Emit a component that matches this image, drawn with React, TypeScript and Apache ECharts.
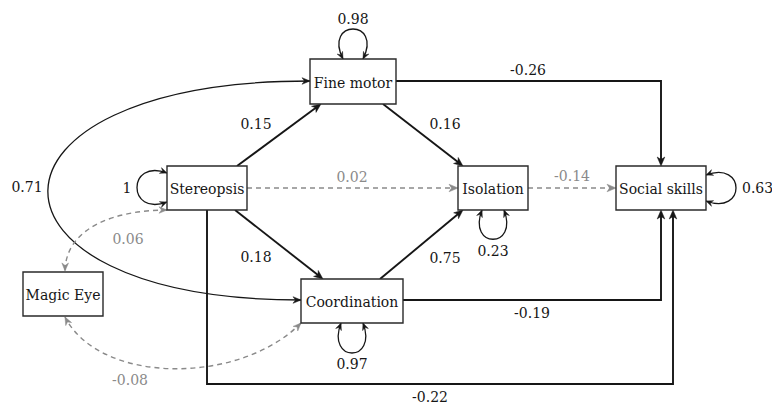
import React, { useEffect, useRef } from 'react';
import * as echarts from 'echarts';

// ---------- data ----------
const nodeNames = ['Stereopsis', 'Fine motor', 'Coordination', 'Isolation', 'Social skills', 'Magic Eye'];

const pathFrom = ['Stereopsis', 'Stereopsis', 'Stereopsis', 'Stereopsis', 'Fine motor', 'Fine motor', 'Coordination', 'Coordination', 'Isolation'];
const pathTo = ['Fine motor', 'Isolation', 'Coordination', 'Social skills', 'Isolation', 'Social skills', 'Isolation', 'Social skills', 'Social skills'];
const pathCoef = [0.15, 0.02, 0.18, -0.22, 0.16, -0.26, 0.75, -0.19, -0.14];
const pathSignificant = [true, false, true, true, true, true, true, true, false];

const covA = ['Fine motor', 'Stereopsis', 'Coordination'];
const covB = ['Coordination', 'Magic Eye', 'Magic Eye'];
const covCoef = [0.71, 0.06, -0.08];
const covSignificant = [true, false, false];

const varNodes = ['Fine motor', 'Stereopsis', 'Isolation', 'Coordination', 'Social skills'];
const varCoef = [0.98, 1, 0.23, 0.97, 0.63];

// ---------- layout (diagram coordinates, px-like units) ----------
const BOX: Record<string, number[]> = {
  'Stereopsis': [167, 166, 80, 44],
  'Fine motor': [310, 59, 86, 45],
  'Coordination': [301, 279, 102, 44],
  'Isolation': [458, 166, 70, 44],
  'Social skills': [616, 166, 90, 44],
  'Magic Eye': [23, 272, 80, 44],
};
const PATH_ROUTE: number[][][] = [
  [[237, 166], [321, 104]],
  [[247, 188], [458, 188]],
  [[235, 210], [323, 279]],
  [[207, 210], [207, 384], [673, 384], [673, 210]],
  [[383, 104], [463, 166]],
  [[396, 81], [661, 81], [661, 166]],
  [[380, 279], [463, 210]],
  [[403, 300], [661, 300], [661, 210]],
  [[528, 188], [616, 188]],
];
const PATH_LABEL: number[][] = [
  [256, 124], [352, 177], [256, 257], [430, 397], [445, 124], [528, 70], [445, 258], [532, 313], [572, 176],
];
// cubic bezier: start, cp1, cp2, end
const COV_CURVE: number[][][] = [
  [[310, 81], [-38, 81], [-38, 300], [301, 300]],
  [[167, 210], [120, 210], [66, 225], [65, 271]],
  [[301, 323], [240, 385], [100, 385], [65, 317]],
];
const COV_LABEL: number[][] = [[27, 187], [128, 239], [130, 380]];
const VAR_CURVE: number[][][] = [
  [[343, 59], [323, 19], [383, 19], [363, 59]],
  [[167, 173], [127, 158], [127, 217], [167, 202]],
  [[482, 210], [467, 249], [519, 249], [504, 210]],
  [[341, 323], [326, 363], [378, 363], [363, 323]],
  [[706, 175], [746, 160], [746, 216], [706, 201]],
];
const VAR_LABEL: number[][] = [[353, 19], [127, 188], [493, 251], [352, 364], [755, 188]];

const BLACK = '#161616';
const GRAY = '#8a8a8a';
const FONT = 'DejaVu Serif';

const fmt = (v: number) => (Number.isInteger(v) ? String(v) : v.toFixed(2));

function arrowHead(tip: number[], from: number[], color: string, L = 9, W = 3.8, notch = 2.5) {
  let dx = tip[0] - from[0];
  let dy = tip[1] - from[1];
  const len = Math.hypot(dx, dy) || 1;
  dx /= len; dy /= len;
  const nx = -dy, ny = dx;
  const bx = tip[0] - L * dx, by = tip[1] - L * dy;
  return {
    type: 'polygon',
    shape: {
      points: [
        tip,
        [bx + W * nx, by + W * ny],
        [tip[0] - (L - notch) * dx, tip[1] - (L - notch) * dy],
        [bx - W * nx, by - W * ny],
      ],
    },
    style: { fill: color, stroke: color, lineWidth: 0.5 },
  };
}

function label(p: number[], text: string, color: string, align = 'center', size = 14) {
  return {
    type: 'text',
    x: p[0],
    y: p[1],
    style: { text, fill: color, fontSize: size, fontFamily: FONT, align, verticalAlign: 'middle' },
  };
}

function bezierChildren(pts: number[][], color: string, width: number, dashed: boolean, both: boolean, L: number, W: number) {
  const [p0, c1, c2, p3] = pts;
  const children: any[] = [
    {
      type: 'bezierCurve',
      shape: { x1: p0[0], y1: p0[1], cpx1: c1[0], cpy1: c1[1], cpx2: c2[0], cpy2: c2[1], x2: p3[0], y2: p3[1] },
      style: { stroke: color, lineWidth: width, fill: 'none', lineDash: dashed ? [5, 4] : null },
    },
    arrowHead(p3, c2, color, L, W),
  ];
  if (both) children.push(arrowHead(p0, c1, color, L, W));
  return children;
}

export default function App() {
  const ref = useRef<HTMLDivElement>(null);
  useEffect(() => {
    if (!ref.current) return;
    const chart = echarts.init(ref.current, null, { renderer: 'svg' });

    const pathSeries = {
      type: 'custom',
      coordinateSystem: 'cartesian2d',
      clip: false,
      silent: true,
      data: pathCoef.map((c, i) => [i, c]),
      renderItem: (params: any, api: any) => {
        const i = params.dataIndex;
        const sig = pathSignificant[i];
        const color = sig ? BLACK : GRAY;
        const pts = PATH_ROUTE[i].map((p) => api.coord(p));
        const tip = pts[pts.length - 1];
        const prev = pts[pts.length - 2];
        const dx = tip[0] - prev[0], dy = tip[1] - prev[1];
        const len = Math.hypot(dx, dy);
        const cut = 6;
        const linePts = pts.slice(0, -1).concat([[tip[0] - (dx / len) * cut, tip[1] - (dy / len) * cut]]);
        return {
          type: 'group',
          children: [
            {
              type: 'polyline',
              shape: { points: linePts },
              style: { stroke: color, lineWidth: sig ? 1.9 : 1.5, fill: 'none', lineDash: sig ? null : [5, 4] },
            },
            arrowHead(tip, prev, color),
            label(api.coord(PATH_LABEL[i]), fmt(pathCoef[i]), color),
          ],
        };
      },
    };

    const covSeries = {
      type: 'custom',
      coordinateSystem: 'cartesian2d',
      clip: false,
      silent: true,
      data: covCoef.map((c, i) => [i, c]),
      renderItem: (params: any, api: any) => {
        const i = params.dataIndex;
        const sig = covSignificant[i];
        const color = sig ? BLACK : GRAY;
        const pts = COV_CURVE[i].map((p) => api.coord(p));
        return {
          type: 'group',
          children: [
            ...bezierChildren(pts, color, sig ? 1.3 : 1.4, !sig, true, 8, 3.3),
            label(api.coord(COV_LABEL[i]), fmt(covCoef[i]), color),
          ],
        };
      },
    };

    const varSeries = {
      type: 'custom',
      coordinateSystem: 'cartesian2d',
      clip: false,
      silent: true,
      data: varCoef.map((c, i) => [i, c]),
      renderItem: (params: any, api: any) => {
        const i = params.dataIndex;
        const pts = VAR_CURVE[i].map((p) => api.coord(p));
        const align = varNodes[i] === 'Social skills' ? 'left' : 'center';
        const lp = api.coord(VAR_LABEL[i]);
        const pos = align === 'left' ? [lp[0] - 13, lp[1]] : lp;
        return {
          type: 'group',
          children: [
            ...bezierChildren(pts, BLACK, 1.3, false, true, 7, 3),
            label(pos, fmt(varCoef[i]), BLACK, align, 14),
          ],
        };
      },
    };

    const nodeSeries = {
      type: 'custom',
      coordinateSystem: 'cartesian2d',
      clip: false,
      silent: true,
      data: nodeNames.map((n, i) => [i, 0]),
      renderItem: (params: any, api: any) => {
        const name = nodeNames[params.dataIndex];
        const b = BOX[name];
        const p0 = api.coord([b[0], b[1]]);
        const p1 = api.coord([b[0] + b[2], b[1] + b[3]]);
        return {
          type: 'group',
          children: [
            {
              type: 'rect',
              shape: { x: p0[0], y: p0[1], width: p1[0] - p0[0], height: p1[1] - p0[1] },
              style: { fill: '#ffffff', stroke: '#2a2a2a', lineWidth: 1.4 },
            },
            label([(p0[0] + p1[0]) / 2, (p0[1] + p1[1]) / 2 + 1], name, BLACK, 'center', 14),
          ],
        };
      },
    };

    chart.setOption({
      animation: false,
      backgroundColor: '#ffffff',
      grid: { left: 0, right: 0, top: 0, bottom: 0 },
      xAxis: { type: 'value', min: 0, max: 772, show: false },
      yAxis: { type: 'value', min: 0, max: 405, inverse: true, show: false },
      series: [covSeries, pathSeries, varSeries, nodeSeries],
    });
    return () => chart.dispose();
  }, []);
  return <div ref={ref} style={{ position: 'absolute', left: 0, top: 0, width: 772, height: 405 }} />;
}
